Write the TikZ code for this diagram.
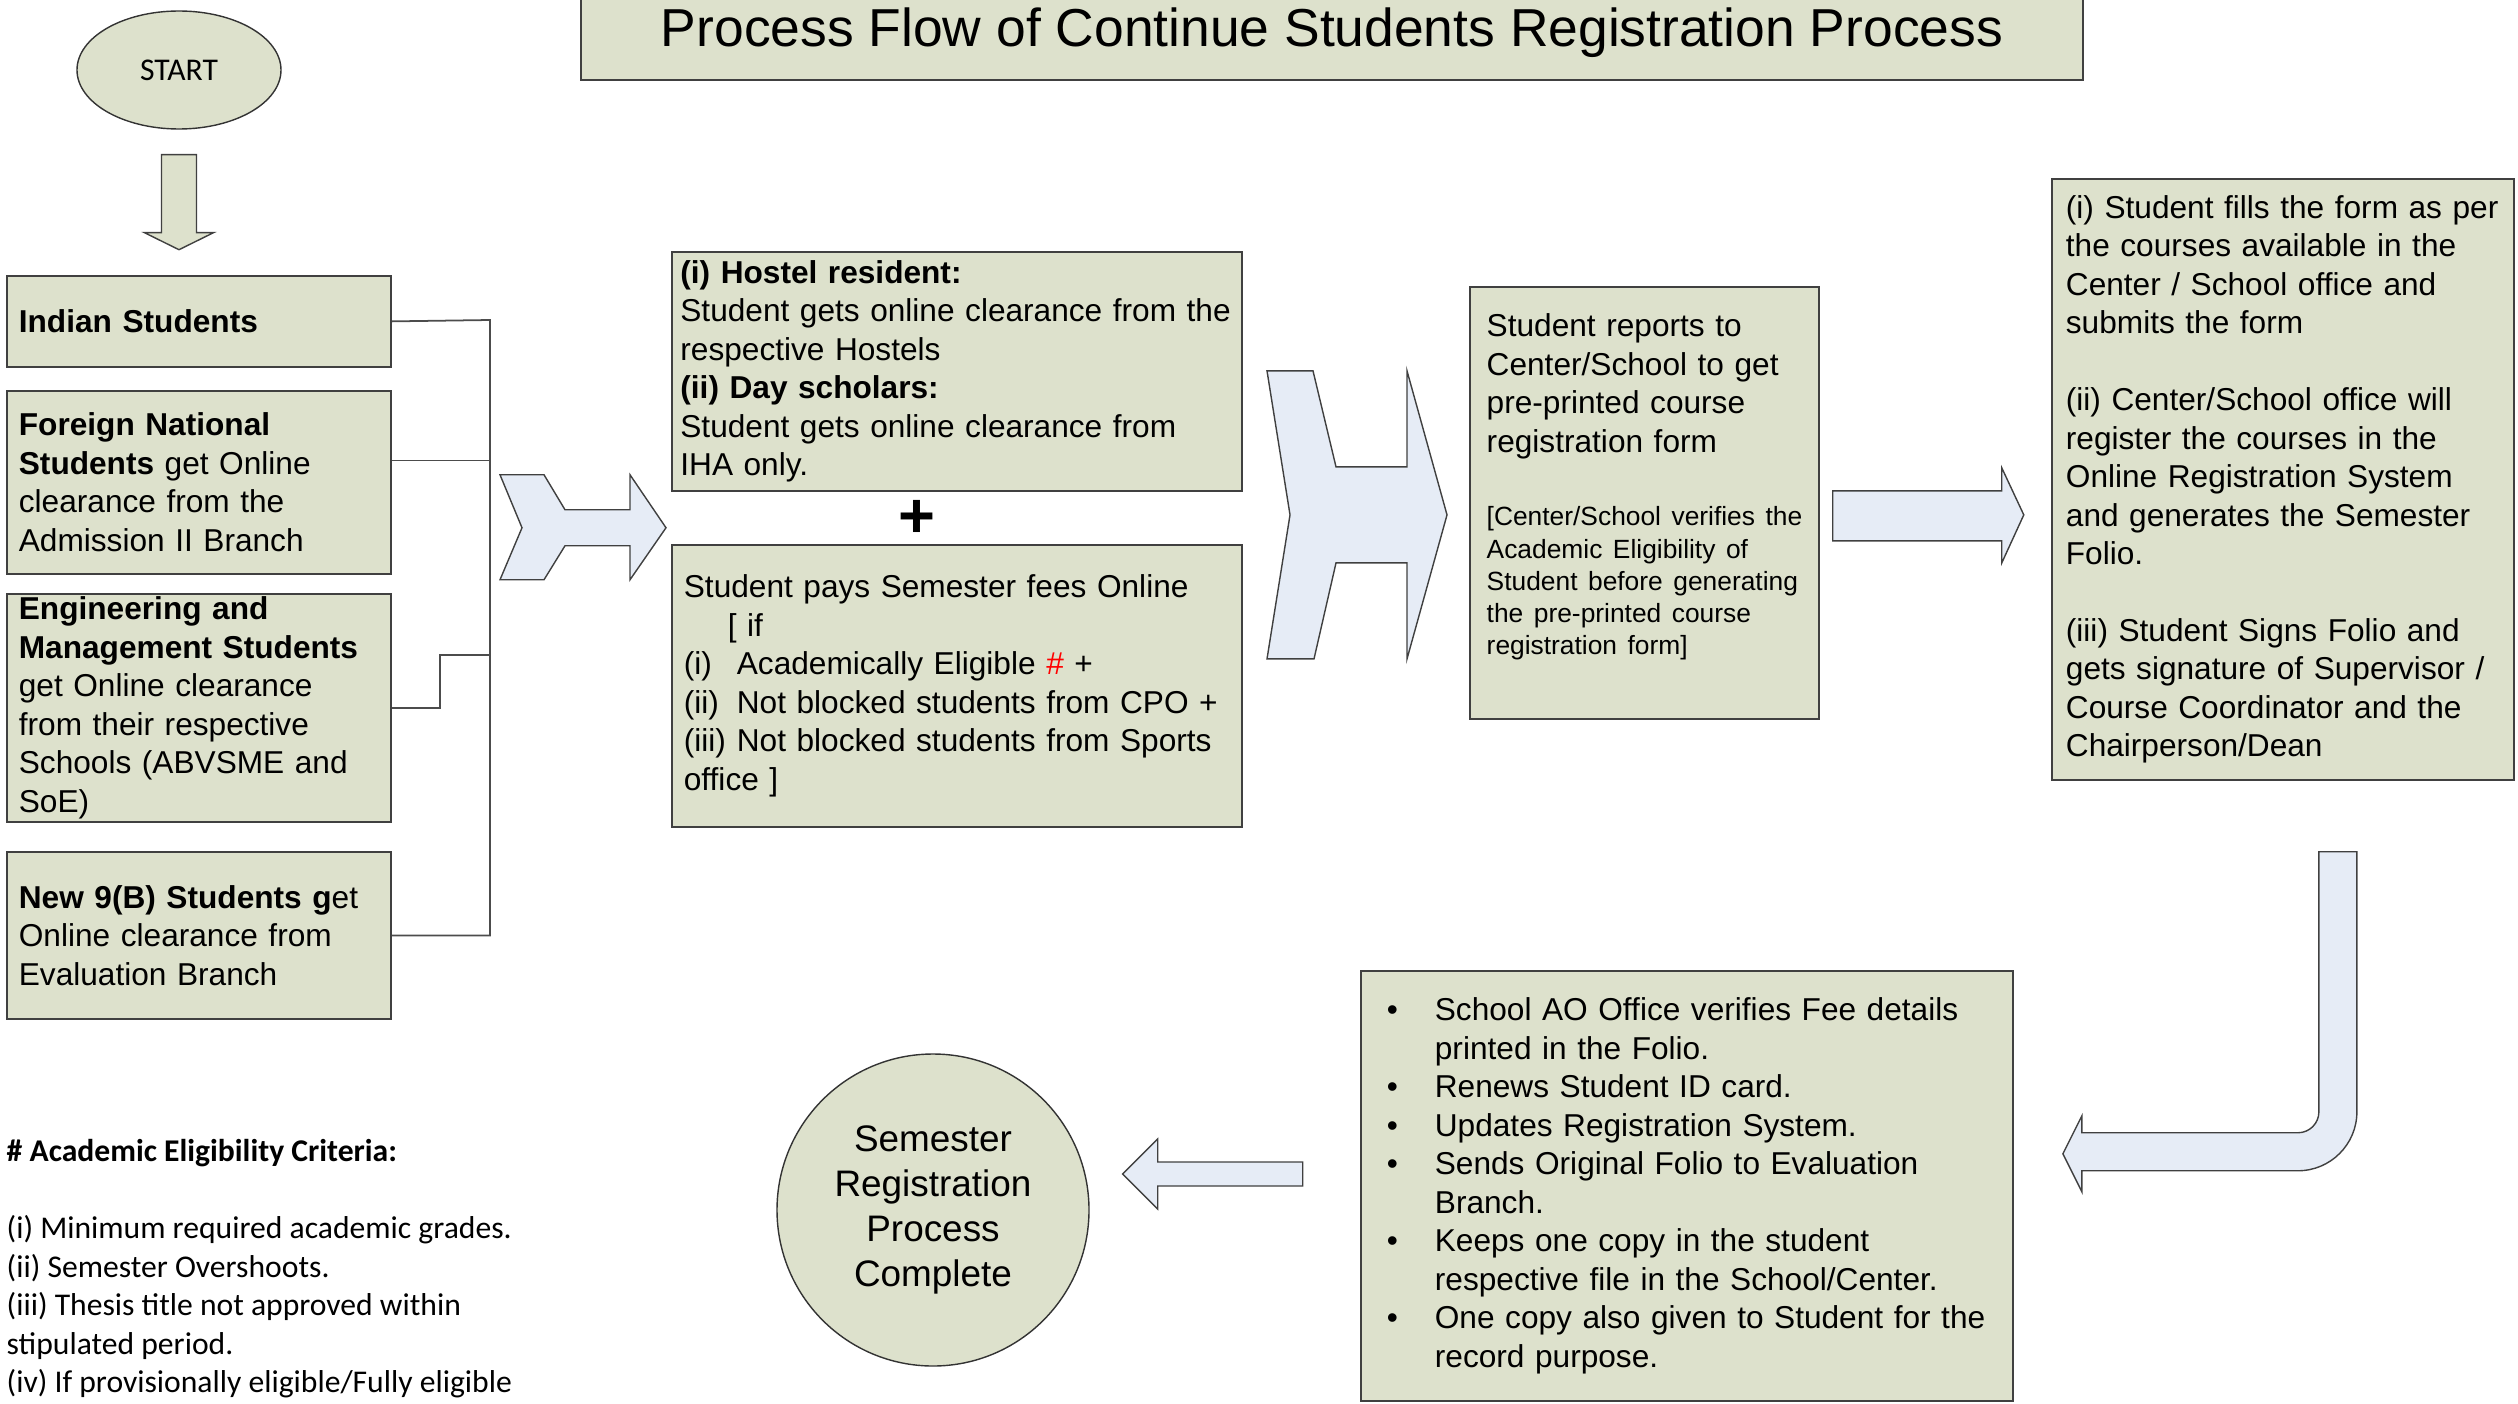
\documentclass[tikz,border=0pt]{standalone}
\usepackage{fontspec}
\setmainfont{Liberation Sans}
\newfontfamily\legendfont{Carlito}
\usetikzlibrary{shapes.geometric,positioning}
\definecolor{boxgreen}{RGB}{221,225,204}
\definecolor{arrowblue}{RGB}{230,236,246}
\definecolor{edgegray}{RGB}{64,64,64}
\tikzset{
	greenbox/.style={draw=edgegray,fill=boxgreen,line width=0.5pt,rectangle,align=left,inner xsep=0.12cm,inner ysep=0pt,font=\fontsize{9}{10.95}\selectfont},
	blockarrow/.style={draw=black!75,fill=arrowblue,line width=0.4pt,line join=miter},
	wire/.style={draw=black!70,line width=0.5pt},
	plaintext/.style={inner sep=0pt,align=left,font=\fontsize{9}{10.95}\selectfont}
}

\begin{document}
\begin{tikzpicture}
	\useasboundingbox (0,0) rectangle (25.18,-14.03);
	\node[greenbox,align=center,minimum width=15.02cm,minimum height=0.94cm,font=\fontsize{15.2}{18}\selectfont] (title) at (13.32,-0.33) {Process Flow of Continue Students Registration Process};

	\node[ellipse,draw=black!80,fill=boxgreen,minimum width=2.04cm,minimum height=1.18cm,inner sep=0pt,font=\legendfont\fontsize{9}{10}\selectfont] (start) at (1.79,-0.70) {START};
	\filldraw[blockarrow,fill=boxgreen,shift={(start.south)}] (-0.175,-0.25) -- (0.175,-0.25) -- (0.175,-1.03) -- (0.345,-1.03) -- (0,-1.20) -- (-0.345,-1.03) -- (-0.175,-1.03) -- cycle;

	% who gets clearance from where
	\node[greenbox,anchor=north west,text width=3.60cm,minimum height=0.91cm] (indian) at (0.06,-2.75) {\textbf{Indian Students}};
	\node[greenbox,anchor=north west,text width=3.60cm,minimum height=1.83cm] (foreign) at (0.06,-3.90) {\textbf{Foreign National}\\\textbf{Students} get Online\\clearance from the\\Admission II Branch};
	\node[greenbox,anchor=north west,text width=3.60cm,minimum height=2.28cm] (engg) at (0.06,-5.93) {\textbf{Engineering and}\\\textbf{Management Students}\\get Online clearance\\from their respective\\Schools (ABVSME and\\SoE)};
	\node[greenbox,anchor=north west,text width=3.60cm,minimum height=1.67cm] (newb) at (0.06,-8.51) {\textbf{New 9(B) Students g}et\\Online clearance from\\Evaluation Branch};

	\coordinate (bus) at (4.90,-3.20);
	\coordinate (fwire) at ([yshift=0.22cm]foreign.east);
	\coordinate (estep) at (4.40,-6.55);
	\draw[wire] (indian.east) -- (bus) -- (bus |- newb.east) -- (newb.east);
	\draw[wire] (fwire) -- (fwire -| bus);
	\draw[wire] (engg.east) -| (estep) -- (estep -| bus);

	\node[greenbox,anchor=north west,text width=5.53cm,inner xsep=0.085cm,minimum height=2.39cm] (hostel) at (6.71,-2.51) {\textbf{(i) Hostel resident:}\\Student gets online clearance from the\\respective Hostels\\\textbf{(ii) Day scholars:}\\Student gets online clearance from\\IHA only.};
	\node[inner sep=0pt,font=\fontsize{18}{18}\selectfont\bfseries] (plus) at (9.17,-5.19) {+};
	\node[greenbox,anchor=north west,text width=5.46cm,minimum height=2.82cm] (fees) at (6.71,-5.44) {Student pays Semester fees Online\\\hspace*{0.44cm}[ if\\\makebox[0.53cm][l]{(i)}Academically Eligible {\color{red}\#} +\\\makebox[0.53cm][l]{(ii)}Not blocked students from CPO +\\\makebox[0.53cm][l]{(iii)}Not blocked students from Sports\\office ]};
	\filldraw[blockarrow,shift={(hostel.south west)}] (-1.71,0.17) -- (-1.27,0.17) -- (-1.06,-0.18) -- (-0.41,-0.18) -- (-0.41,0.17) -- (-0.05,-0.36) -- (-0.41,-0.88) -- (-0.41,-0.54) -- (-1.06,-0.54) -- (-1.27,-0.88) -- (-1.71,-0.88) -- (-1.49,-0.36) -- cycle;

	\node[greenbox,anchor=north west,minimum width=3.49cm,minimum height=4.32cm] (report) at (14.69,-2.86) {};
	\node[plaintext,anchor=north west,text width=3.20cm] (reporttxt) at ([xshift=0.17cm,yshift=-0.27cm]report.north west) {Student reports to\\Center/School to get\\pre-printed course\\registration form\par\vspace{11.85pt}{\fontsize{7.5}{9.15}\selectfont[Center/School verifies the\\Academic Eligibility of\\Student before generating\\the pre-printed course\\registration form]\par}};
	\filldraw[blockarrow,shift={(report.west)}] (-2.02,1.32) -- (-1.56,1.32) -- (-1.33,0.36) -- (-0.62,0.36) -- (-0.62,1.32) -- (-0.22,-0.12) -- (-0.62,-1.56) -- (-0.62,-0.60) -- (-1.33,-0.60) -- (-1.55,-1.56) -- (-2.02,-1.56) -- (-1.79,-0.12) -- cycle;

	\node[greenbox,anchor=north west,text width=4.34cm,inner xsep=0.14cm,minimum height=6.01cm] (fillform) at (20.51,-1.78) {(i) Student fills the form as per\\the courses available in the\\Center / School office and\\submits the form\\[10.95pt](ii) Center/School office will\\register the courses in the\\Online Registration System\\and generates the Semester\\Folio.\\[10.95pt](iii) Student Signs Folio and\\gets signature of Supervisor /\\Course Coordinator and the\\Chairperson/Dean};
	\filldraw[blockarrow,shift={(report.east)}] (0.13,0.12) -- (1.82,0.12) -- (1.82,0.35) -- (2.04,-0.12) -- (1.82,-0.60) -- (1.82,-0.38) -- (0.13,-0.38) -- cycle;

	\filldraw[blockarrow,shift={(fillform.south)}] (0.36,-0.71) -- (0.36,-3.31) arc[start angle=0,end angle=-90,radius=0.21] -- (-2.01,-3.52) -- (-2.01,-3.35) -- (-2.20,-3.73) -- (-2.01,-4.11) -- (-2.01,-3.90) -- (0.15,-3.90) arc[start angle=-90,end angle=0,radius=0.59] -- (0.74,-0.71) -- cycle;

	\node[greenbox,anchor=north west,text width=6.00cm,inner xsep=0.26cm,minimum height=4.30cm] (verify) at (13.60,-9.70) {\makebox[0.48cm][l]{\textbullet}School AO Office verifies Fee details\\\hspace*{0.48cm}printed in the Folio.\\\makebox[0.48cm][l]{\textbullet}Renews Student ID card.\\\makebox[0.48cm][l]{\textbullet}Updates Registration System.\\\makebox[0.48cm][l]{\textbullet}Sends Original Folio to Evaluation\\\hspace*{0.48cm}Branch.\\\makebox[0.48cm][l]{\textbullet}Keeps one copy in the student\\\hspace*{0.48cm}respective file in the School/Center.\\\makebox[0.48cm][l]{\textbullet}One copy also given to Student for the\\\hspace*{0.48cm}record purpose.};

	\node[circle,draw=black!80,fill=boxgreen,minimum size=3.12cm,inner sep=0pt,align=center,font=\fontsize{10.5}{12.8}\selectfont] (done) at (9.33,-12.10) {Semester\\Registration\\Process\\Complete};
	\filldraw[blockarrow,shift={(done.east)}] (2.13,0.48) -- (0.68,0.48) -- (0.68,0.71) -- (0.33,0.36) -- (0.68,0.01) -- (0.68,0.24) -- (2.13,0.24) -- cycle;

	\node[plaintext,anchor=north west,font=\legendfont\fontsize{9}{10.95}\selectfont] (criteria) at (0.06,-11.39) {\textbf{\# Academic Eligibility Criteria:}\\[10.95pt](i) Minimum required academic grades.\\(ii) Semester Overshoots.\\(iii) Thesis title not approved within\\stipulated period.\\(iv) If provisionally eligible/Fully eligible};
\end{tikzpicture}
\end{document}
